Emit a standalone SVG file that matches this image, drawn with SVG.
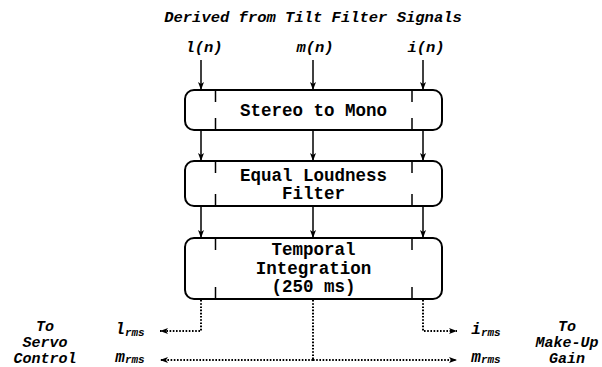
<svg xmlns="http://www.w3.org/2000/svg" width="602" height="367" viewBox="0 0 602 367">
<defs>
<style>
.box{fill:#fff;stroke:#000;stroke-width:2}
.tick{stroke:#000;stroke-width:1.5}
.bt{font-family:"Liberation Mono",monospace;font-weight:bold;font-size:17.5px;text-anchor:middle;fill:#000}
.lbl{font-family:"Liberation Mono",monospace;font-weight:bold;font-style:italic;font-size:15.5px;text-anchor:middle;fill:#000}
.side{font-size:15px}
.sym{font-size:16px}
.sub{font-size:11px}
.ar{stroke:#000;stroke-width:1.5;fill:none}
.dot{stroke:#000;stroke-width:2;fill:none;stroke-dasharray:1.6 1.6}
</style>
<marker id="ah" markerWidth="8" markerHeight="6" refX="8" refY="3" orient="auto" markerUnits="userSpaceOnUse">
<path d="M0,0 L8,3 L0,6 L2,3 Z" fill="#000"/>
</marker>
</defs>
<rect width="602" height="367" fill="#fff"/>
<text class="lbl" x="313" y="22">Derived from Tilt Filter Signals</text>
<g id="inputs">
<text class="lbl" x="204" y="52">l(n)</text>
<text class="lbl" x="315" y="52">m(n)</text>
<text class="lbl" x="426" y="52">i(n)</text>
</g>
<g id="connectors">
<line class="ar" x1="201" y1="60" x2="201" y2="90" marker-end="url(#ah)"/>
<line class="ar" x1="313" y1="60" x2="313" y2="90" marker-end="url(#ah)"/>
<line class="ar" x1="423" y1="60" x2="423" y2="90" marker-end="url(#ah)"/>
<line class="ar" x1="201" y1="130" x2="201" y2="161" marker-end="url(#ah)"/>
<line class="ar" x1="313" y1="130" x2="313" y2="161" marker-end="url(#ah)"/>
<line class="ar" x1="423" y1="130" x2="423" y2="161" marker-end="url(#ah)"/>
<line class="ar" x1="201" y1="206" x2="201" y2="238" marker-end="url(#ah)"/>
<line class="ar" x1="313" y1="206" x2="313" y2="238" marker-end="url(#ah)"/>
<line class="ar" x1="423" y1="206" x2="423" y2="238" marker-end="url(#ah)"/>
<path class="dot" d="M201,300 V331 H160" marker-end="url(#ah)"/>
<path class="dot" d="M423,300 V331 H457" marker-end="url(#ah)"/>
<path class="dot" d="M313,300 V360"/>
<line class="dot" x1="313" y1="360" x2="160" y2="360" marker-end="url(#ah)"/>
<line class="dot" x1="313" y1="360" x2="457" y2="360" marker-end="url(#ah)"/>
</g>
<g id="stereo-to-mono">
<rect class="box" x="185" y="90" width="257" height="40" rx="9"/>
<line class="tick" x1="215.5" y1="90" x2="215.5" y2="102"/>
<line class="tick" x1="215.5" y1="118" x2="215.5" y2="130"/>
<line class="tick" x1="412" y1="90" x2="412" y2="102"/>
<line class="tick" x1="412" y1="118" x2="412" y2="130"/>
<text class="bt" x="313.5" y="116">Stereo to Mono</text>
</g>
<g id="equal-loudness-filter">
<rect class="box" x="185" y="161" width="257" height="45" rx="9"/>
<line class="tick" x1="215.5" y1="161" x2="215.5" y2="173"/>
<line class="tick" x1="215.5" y1="194" x2="215.5" y2="206"/>
<line class="tick" x1="412" y1="161" x2="412" y2="173"/>
<line class="tick" x1="412" y1="194" x2="412" y2="206"/>
<text class="bt" x="313.5" y="180.5">Equal Loudness</text>
<text class="bt" x="313.5" y="199">Filter</text>
</g>
<g id="temporal-integration">
<rect class="box" x="185" y="238" width="257" height="61" rx="9"/>
<line class="tick" x1="215.5" y1="238" x2="215.5" y2="250"/>
<line class="tick" x1="215.5" y1="287" x2="215.5" y2="299"/>
<line class="tick" x1="412" y1="238" x2="412" y2="250"/>
<line class="tick" x1="412" y1="287" x2="412" y2="299"/>
<text class="bt" x="313.5" y="255">Temporal</text>
<text class="bt" x="313.5" y="273.5">Integration</text>
<text class="bt" x="313.5" y="292">(250 ms)</text>
</g>
<g id="outputs">
<text class="lbl sym" x="130" y="334">l<tspan class="sub" dy="2">rms</tspan></text>
<text class="lbl sym" x="130" y="362">m<tspan class="sub" dy="1">rms</tspan></text>
<text class="lbl sym" x="486" y="334">i<tspan class="sub" dy="2">rms</tspan></text>
<text class="lbl sym" x="486" y="362">m<tspan class="sub" dy="1">rms</tspan></text>
</g>
<g id="servo-control">
<text class="lbl side" x="45" y="331">To</text>
<text class="lbl side" x="45" y="347">Servo</text>
<text class="lbl side" x="45" y="363">Control</text>
</g>
<g id="make-up-gain">
<text class="lbl side" x="567" y="331">To</text>
<text class="lbl side" x="567" y="347">Make-Up</text>
<text class="lbl side" x="567" y="363">Gain</text>
</g>
</svg>
